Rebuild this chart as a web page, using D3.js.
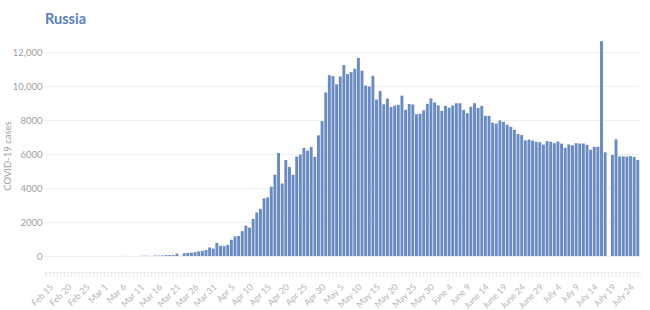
<!DOCTYPE html>
<html>
<head>
<meta charset="utf-8">
<script src="https://cdn.jsdelivr.net/npm/d3@7"></script>
<style>
  body { margin: 0; background: #fff; }
  svg { font-family: Lato, "Open Sans", sans-serif; }
</style>
</head>
<body>
<div id="chart"></div>
<script>
// daily new cases, one value per day starting on Feb 15
var startDate = new Date(2020, 1, 15);

var dailyCases = [
	// Feb 15 - Feb 29
	0, 0, 0, 0, 0, 0, 0, 0, 0, 0, 0, 0, 0, 0, 0,
	// March
	0, 1, 0, 0, 0, 1, 6, 3, 0, 3, 3, 8, 17, 14, 4, 27, 24, 33, 52, 54, 53,
	140, 0, 163, 182, 196, 228, 270, 302, 350, 501,
	// April
	440, 771, 601, 582, 658, 954, 1154, 1175, 1459, 1786, 1667, 2186, 2558, 2774, 3388,
	3448, 4070, 4785, 6060, 4268, 5642, 5236, 4774, 5849, 5966, 6361, 6198, 6411, 5841, 7099,
	// May
	7933, 9623, 10633, 10581, 10102, 10559, 11231, 10699, 10817, 11012, 11656, 10899, 10028, 9974, 10598, 9200,
	9709, 8926, 9263, 8764, 8849, 8894, 9434, 8599, 8946, 8915, 8338, 8371, 8572, 8952, 9268,
	// June
	9035, 8863, 8536, 8831, 8726, 8855, 8984, 8985, 8595, 8404, 8779, 8987, 8706, 8835, 8246,
	8248, 7843, 7790, 7972, 7889, 7728, 7600, 7425, 7176, 7113, 6800, 6852, 6791, 6719, 6693,
	// July 1 - July 27
	6556, 6760, 6718, 6632, 6736, 6611, 6368, 6562, 6509, 6635, 6611, 6615, 6537, 6248,
	6422, 6428, 12640, 6100, 0, 5940, 6860, 5860, 5860, 5850, 5870, 5830, 5650
];

var yTicks = [0, 2000, 4000, 6000, 8000, 10000, 12000];
var monthNames = ["Jan", "Feb", "Mar", "Apr", "May", "June", "July", "Aug"];
var labelEvery = 5; // a date label every 5 days

var opts = {
	width: 650,
	height: 310,
	plotLeft: 44.5,
	plotRight: 639.6,
	plotTop: 52,
	plotBottom: 256,
	axisY: 272,
	barColor: "#6a8ac4",
	titleColor: "#5b7ec2",
	textColor: "#a0a0a0",
	dateColor: "#b4b4b4",
	gridColor: "#efefef"
};

var dates = dailyCases.map(function(d, i) {
	return d3.timeDay.offset(startDate, i);
});

var svg = d3.select("#chart").append("svg")
	.attr("width", opts.width)
	.attr("height", opts.height);

var x = d3.scaleBand()
	.domain(dates)
	.range([opts.plotLeft, opts.plotRight])
	.paddingInner(0.2)
	.paddingOuter(0.1);

var y = d3.scaleLinear()
	.domain([0, 12000])
	.range([opts.plotBottom, opts.plotTop]);

function yFormat(d) {
	return d >= 10000 ? d3.format(",")(d) : String(d);
}

// title
svg.append("text")
	.attr("x", 45)
	.attr("y", 24)
	.attr("fill", opts.titleColor)
	.attr("font-size", 14.5)
	.attr("font-weight", "bold")
	.text("Russia");

// y axis: grid lines and labels
var yAxis = svg.append("g")
	.attr("transform", "translate(" + opts.plotLeft + ",0)")
	.call(d3.axisRight(y)
		.tickValues(yTicks)
		.tickSize(opts.plotRight - opts.plotLeft)
		.tickFormat(""));
yAxis.select(".domain").remove();
yAxis.selectAll(".tick line").attr("stroke", opts.gridColor);

svg.append("g")
	.attr("transform", "translate(" + opts.plotLeft + ",0)")
	.call(d3.axisLeft(y).tickValues(yTicks).tickSize(0).tickPadding(2).tickFormat(yFormat))
	.call(function(g) { g.select(".domain").remove(); })
	.selectAll("text")
	.attr("fill", opts.textColor)
	.attr("font-size", 9.5)
	.attr("font-family", "Lato, sans-serif");

svg.append("text")
	.attr("transform", "translate(11," + ((opts.plotTop + opts.plotBottom) / 2 + 2) + ") rotate(-90)")
	.attr("text-anchor", "middle")
	.attr("fill", opts.textColor)
	.attr("font-size", 9.5)
	.text("COVID-19 cases");

// bars
svg.append("g").selectAll("rect")
	.data(dailyCases)
	.join("rect")
	.attr("x", function(d, i) { return x(dates[i]); })
	.attr("y", function(d) { return y(d); })
	.attr("width", x.bandwidth())
	.attr("height", function(d) { return y(0) - y(d); })
	.attr("fill", opts.barColor);

// x axis, a tick for every day, a label every 5 days
var xAxis = svg.append("g")
	.attr("transform", "translate(0," + opts.axisY + ")")
	.call(d3.axisBottom(x)
		.tickSize(5)
		.tickFormat(function(d, i) {
			return i % labelEvery === 0 ? monthNames[d.getMonth()] + " " + d.getDate() : "";
		}));
xAxis.select(".domain").attr("stroke", opts.gridColor);
xAxis.selectAll(".tick line").attr("stroke", "#e8e8e8");
xAxis.selectAll("text")
	.attr("fill", opts.dateColor)
	.attr("font-size", 8.8)
	.attr("font-family", "Lato, sans-serif")
	.attr("text-anchor", "end")
	.attr("dy", 0)
	.attr("transform", "translate(2,10) rotate(-45)");
</script>
</body>
</html>
